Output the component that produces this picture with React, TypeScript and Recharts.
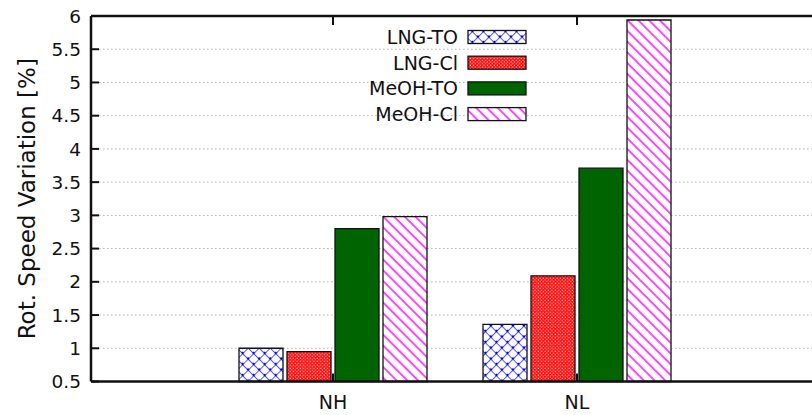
import React from "react";
import { BarChart, Bar, XAxis, YAxis, CartesianGrid, Legend } from "recharts";

const categories = ["NH", "NL"];
const lngTo = [1.0, 1.36];
const lngCl = [0.95, 2.09];
const meohTo = [2.8, 3.71];
const meohCl = [2.98, 5.94];
const yTicks = [0.5, 1, 1.5, 2, 2.5, 3, 3.5, 4, 4.5, 5, 5.5, 6];

const FONT = "'DejaVu Sans', Verdana, sans-serif";
const INK = "#111";

const data = categories.map((cat, i) => ({
  cat,
  lngTo: lngTo[i],
  lngCl: lngCl[i],
  meohTo: meohTo[i],
  meohCl: meohCl[i],
}));

const series = [
  { key: "lngTo", name: "LNG-TO", fill: "url(#pat-lng-to)" },
  { key: "lngCl", name: "LNG-Cl", fill: "url(#pat-lng-cl)" },
  { key: "meohTo", name: "MeOH-TO", fill: "#006400" },
  { key: "meohCl", name: "MeOH-Cl", fill: "url(#pat-meoh-cl)" },
];

// fill patterns shared by the bars and the legend samples
function Patterns() {
  return (
    <svg width={0} height={0} style={{ position: "absolute" }}>
      <defs>
        <pattern id="pat-lng-to" patternUnits="userSpaceOnUse" width={7.8} height={7.8} patternTransform="rotate(45)">
          <rect width={7.8} height={7.8} fill="#fff" />
          <line x1={0} y1={0} x2={0} y2={7.8} stroke="#0000ff" strokeWidth={1.3} />
          <line x1={0} y1={0} x2={7.8} y2={0} stroke="#0000ff" strokeWidth={1.3} />
          <rect x={-1.1} y={-1.1} width={2.2} height={2.2} fill="#0000ff" />
          <rect x={6.7} y={-1.1} width={2.2} height={2.2} fill="#0000ff" />
          <rect x={-1.1} y={6.7} width={2.2} height={2.2} fill="#0000ff" />
          <rect x={6.7} y={6.7} width={2.2} height={2.2} fill="#0000ff" />
        </pattern>
        <pattern id="pat-lng-cl" patternUnits="userSpaceOnUse" width={3.4} height={3.4}>
          <rect width={3.4} height={3.4} fill="#ff1010" />
          <rect x={0.6} y={0.6} width={1.1} height={1.1} fill="#ffd0d0" />
          <rect x={2.3} y={2.3} width={1.1} height={1.1} fill="#ffb0b0" />
        </pattern>
        <pattern id="pat-meoh-cl" patternUnits="userSpaceOnUse" width={7.6} height={7.6} patternTransform="rotate(-45)">
          <rect width={7.6} height={7.6} fill="#fff" />
          <line x1={3.8} y1={0} x2={3.8} y2={7.6} stroke="#ff00ff" strokeWidth={1.4} />
        </pattern>
      </defs>
    </svg>
  );
}

const LeftTick = (props: any) => {
  const { x, y, payload } = props;
  return (
    <g>
      <line x1={x} y1={y} x2={x + 8} y2={y} stroke={INK} strokeWidth={2} />
      <text x={x - 10} y={y} dy="0.36em" textAnchor="end" fontFamily={FONT} fontSize={18.5} fill={INK}>
        {String(payload.value)}
      </text>
    </g>
  );
};

const BottomTick = (props: any) => {
  const { x, y, payload } = props;
  return (
    <g>
      <line x1={x} y1={y} x2={x} y2={y - 8} stroke={INK} strokeWidth={2} />
      <text x={x} y={y + 27} textAnchor="middle" fontFamily={FONT} fontSize={19} fill={INK}>
        {payload.value}
      </text>
    </g>
  );
};

const TopTick = (props: any) => {
  const { x, y } = props;
  return <line x1={x} y1={y} x2={x} y2={y + 9} stroke={INK} strokeWidth={2} />;
};

const YLabel = (props: any) => {
  const { viewBox } = props;
  const cy = viewBox.y + viewBox.height / 2;
  return (
    <text
      x={35}
      y={cy}
      transform={`rotate(-90, 35, ${cy})`}
      textAnchor="middle"
      fontFamily={FONT}
      fontSize={23}
      fill={INK}
    >
      Rot. Speed Variation [%]
    </text>
  );
};

// key drawn in series order, text right-aligned against the sample boxes
const KeyBox = () => (
  <svg width={200} height={110}>
    {series.map((s, i) => {
      const cy = 17 + i * 25.7;
      return (
        <g key={s.key}>
          <text x={118} y={cy} dy="0.36em" textAnchor="end" fontFamily={FONT} fontSize={19} fill={INK}>
            {s.name}
          </text>
          <rect x={128} y={cy - 6.5} width={58} height={13} fill={s.fill} stroke={INK} strokeWidth={1.3} />
        </g>
      );
    })}
  </svg>
);

export default function App() {
  return (
    <div
      style={{
        position: "absolute",
        left: 0,
        top: 0,
        width: 812,
        height: 415,
        overflow: "hidden",
        background: "#fff",
      }}
    >
      <Patterns />
      <BarChart
        width={830}
        height={415}
        data={data}
        margin={{ top: 15, right: 9, bottom: 3.5, left: 0 }}
        barSize={44}
        barGap={4}
      >
        <CartesianGrid vertical={false} stroke="#b4b4b4" strokeDasharray="1.6 2.4" />
        <XAxis
          dataKey="cat"
          height={30}
          padding={{ left: 120, right: 122 }}
          axisLine={{ stroke: INK, strokeWidth: 2.5 }}
          tickLine={false}
          tickSize={0}
          tickMargin={0}
          tick={BottomTick}
          interval={0}
        />
        <XAxis
          xAxisId="top"
          orientation="top"
          dataKey="cat"
          height={1}
          padding={{ left: 120, right: 122 }}
          axisLine={{ stroke: INK, strokeWidth: 2.5 }}
          tickLine={false}
          tickSize={0}
          tickMargin={0}
          tick={TopTick}
          interval={0}
        />
        <YAxis
          type="number"
          domain={[0.5, 6]}
          ticks={yTicks}
          width={91}
          interval={0}
          axisLine={{ stroke: INK, strokeWidth: 2.5 }}
          tickLine={false}
          tickSize={0}
          tickMargin={0}
          tick={LeftTick}
          label={<YLabel />}
        />
        <Legend
          layout="vertical"
          align="center"
          verticalAlign="middle"
          content={<KeyBox />}
          wrapperStyle={{ left: 340, top: 20, width: 200, height: 110 }}
        />
        {series.map((s) => (
          <Bar
            key={s.key}
            dataKey={s.key}
            name={s.name}
            fill={s.fill}
            stroke={INK}
            strokeWidth={1.3}
            isAnimationActive={false}
          />
        ))}
      </BarChart>
    </div>
  );
}
